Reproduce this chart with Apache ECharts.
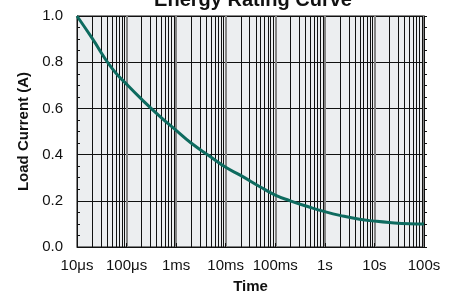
<!DOCTYPE html>
<html>
<head>
<meta charset="utf-8">
<script src="https://cdn.jsdelivr.net/npm/echarts@6/dist/echarts.min.js"></script>
<style>
  html, body { margin: 0; padding: 0; background: #fff; }
  #chart { width: 455px; height: 294px; }
</style>
</head>
<body>
<div id="chart"></div>
<script>
// time in seconds, load current in A
var times = [1e-5, 2e-5, 5e-5, 1e-4, 2e-4, 5e-4, 1e-3, 2e-3, 5e-3, 1e-2, 2e-2, 5e-2,
             1e-1, 2e-1, 5e-1, 1, 2, 5, 10, 20, 50, 100];
var current = [1.0, 0.905, 0.775, 0.705, 0.64, 0.56, 0.505, 0.45, 0.39, 0.345, 0.31, 0.26,
               0.225, 0.2, 0.172, 0.153, 0.137, 0.12, 0.112, 0.106, 0.101, 0.10];
var xTickLabels = ['10\u03bcs', '100\u03bcs', '1ms', '10ms', '100ms', '1s', '10s', '100s'];
var decades = [1e-5, 1e-4, 1e-3, 1e-2, 1e-1, 1, 10];
var minorSteps = [2, 3, 4, 5, 6, 7, 8, 9];

var font = 'Liberation Sans, Arial, sans-serif';

// the 2..9 grid lines inside each decade
var minorLines = [];
decades.forEach(function (d) {
  minorSteps.forEach(function (m) {
    minorLines.push([d * m]);
  });
});

var pts = times.map(function (t, i) { return [t, current[i]]; });

var option = {
  animation: false,
  title: {
    text: 'Energy Rating Curve',
    left: 248, top: -15,
    textAlign: 'center',
    textStyle: { fontFamily: font, fontSize: 20, fontWeight: 'bold', color: '#111' }
  },
  grid: {
    left: 77, right: 31, top: 16, bottom: 47,
    outerBoundsMode: 'none',
    containLabel: false,
    show: true, backgroundColor: '#eceef0', borderColor: '#111', borderWidth: 1
  },
  xAxis: {
    type: 'log', logBase: 10, min: 1e-5, max: 100,
    name: 'Time', nameLocation: 'middle', nameGap: 32,
    nameTextStyle: { fontFamily: font, fontSize: 15, fontWeight: 'bold', color: '#111' },
    axisLine: { show: true, lineStyle: { color: '#111' } },
    axisTick: { show: true, inside: true, length: 4, lineStyle: { color: '#111' } },
    axisLabel: {
      fontFamily: font, fontSize: 15, color: '#111', margin: 11,
      formatter: function (v) {
        var k = Math.round(Math.log10(v)) + 5;
        return xTickLabels[k] || '';
      }
    },
    splitLine: { show: true, lineStyle: { color: '#858585', width: 2 } }
  },
  yAxis: [{
    type: 'value', min: 0, max: 1, interval: 0.2,
    name: 'Load Current (A)', nameLocation: 'middle', nameGap: 45,
    nameTextStyle: { fontFamily: font, fontSize: 15, fontWeight: 'bold', color: '#111' },
    axisLine: { show: true, lineStyle: { color: '#111' } },
    axisTick: { show: true, inside: true, length: 3, lineStyle: { color: '#111' } },
    minorTick: { show: true, splitNumber: 4, length: 3, lineStyle: { color: '#111' } },
    axisLabel: {
      fontFamily: font, fontSize: 15, color: '#111', margin: 14,
      formatter: function (v) { return v.toFixed(1); }
    },
    splitLine: { show: true, lineStyle: { color: '#111', width: 1 } }
  }, {
    type: 'value', min: 0, max: 1, interval: 0.2, position: 'right',
    axisLine: { show: true, lineStyle: { color: '#111' } },
    axisTick: { show: true, length: 3, lineStyle: { color: '#111' } },
    minorTick: { show: true, splitNumber: 4, length: 3, lineStyle: { color: '#111' } },
    axisLabel: { show: false },
    splitLine: { show: false }
  }],
  series: [{
    // minor vertical grid lines
    type: 'custom',
    silent: true,
    data: minorLines,
    z: 1,
    renderItem: function (params, api) {
      var p0 = api.coord([api.value(0), 0]);
      var p1 = api.coord([api.value(0), 1]);
      return {
        type: 'line',
        shape: { x1: Math.round(p0[0]) + 0.5, y1: p0[1], x2: Math.round(p0[0]) + 0.5, y2: p1[1] },
        style: { stroke: '#111', lineWidth: 1 }
      };
    }
  }, {
    type: 'line',
    data: pts,
    smooth: 0.5,
    showSymbol: false,
    lineStyle: { color: '#0e6b5f', width: 3 },
    z: 5
  }]
};

var chart = echarts.init(document.getElementById('chart'), null, { renderer: 'canvas' });
chart.setOption(option);
</script>
</body>
</html>
